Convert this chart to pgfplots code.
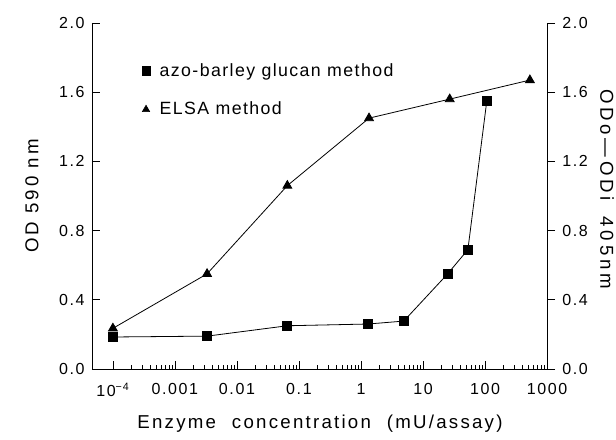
\documentclass[border=0pt]{standalone}
\usepackage{fontspec}
\setmainfont{Liberation Sans}[LetterSpace=10]
\usepackage{pgfplots}
\pgfplotsset{compat=1.18}
\begin{document}
\begin{tikzpicture}
\useasboundingbox (-69pt,-52.5pt) rectangle (393pt,276.75pt);
\begin{axis}[
  at={(0,0)}, anchor=south west,
  scale only axis, width=341.25pt, height=259.5pt,
  xmode=log, xmin=4.6e-5, xmax=1000,
  ymin=0, ymax=2, clip=false,
  axis line style={draw=none},
  xtick pos=left, ytick pos=left,
  tick align=inside,
  ytick={0,0.4,0.8,1.2,1.6,2.0},
  yticklabel style={/pgf/number format/fixed, /pgf/number format/fixed zerofill, /pgf/number format/precision=1, /pgf/number format/assume math mode=true, xshift=-2pt},
  major tick length=6pt, minor tick length=3pt,
  every tick/.style={black, line width=0.6pt},
  tick label style={font=\fontsize{12}{14}\selectfont},
  xtick={1e-4,1e-3,1e-2,1e-1,1,10,100,1000},
  xticklabels={10\textsuperscript{−4},0.001,0.01,0.1,1,10,100,1000},
  minor xtick={2e-4,3e-4,4e-4,5e-4,6e-4,7e-4,8e-4,9e-4,
               2e-3,3e-3,4e-3,5e-3,6e-3,7e-3,8e-3,9e-3,
               2e-2,3e-2,4e-2,5e-2,6e-2,7e-2,8e-2,9e-2,
               0.2,0.3,0.4,0.5,0.6,0.7,0.8,0.9,
               2,3,4,5,6,7,8,9,
               20,30,40,50,60,70,80,90,
               200,300,400,500,600,700,800,900},
  xticklabel style={yshift=-7pt},
  xlabel={Enzyme\hspace{12pt}concentration\hspace{12pt}(mU/assay)},
  ylabel={OD\hspace{6pt}590\hspace{6pt}nm},
  every axis x label/.style={at={(axis description cs:0.501,-0.158)}, anchor=center, font=\fontsize{14}{16}\addfontfeatures{LetterSpace=12}\selectfont},
  every axis y label/.style={at={(axis description cs:-0.132,0.5)}, rotate=90, anchor=center, font=\fontsize{14}{16}\addfontfeatures{LetterSpace=17}\selectfont},
  legend style={draw=none, fill=none, at={(axis description cs:0.1,0.9)}, anchor=north west,
    row sep=14pt, font=\fontsize{13.3}{15}\addfontfeatures{LetterSpace=8}\selectfont},
  legend cell align=left,
]
\draw[line width=0.6pt] (rel axis cs:0,1) -- (rel axis cs:0,0) -- (rel axis cs:1,0) -- (rel axis cs:1,1);
\addlegendimage{only marks, mark=square*, mark size=3.2pt, black}
\addlegendentry{\hspace{5pt}azo-barley glucan method}
\addlegendimage{only marks, mark=triangle*, mark size=3.2pt, black}
\addlegendentry{\hspace{5pt}ELSA method}
\addplot[black, line width=0.6pt, mark=square*, mark size=3.4pt, forget plot] coordinates {
  (1e-4,0.185) (0.0033,0.19) (0.065,0.25) (1.3,0.26) (4.9,0.277) (25,0.55) (53,0.69) (107,1.55)};
\addplot[black, line width=0.6pt, mark=triangle*, mark size=3.8pt, forget plot] coordinates {
  (1e-4,0.235) (0.0033,0.55) (0.065,1.06) (1.35,1.45) (27,1.56) (530,1.67)};
\end{axis}
\begin{axis}[
  at={(0,0)}, anchor=south west,
  scale only axis, width=341.25pt, height=259.5pt,
  xmode=log, xmin=4.6e-5, xmax=1000,
  ymin=0, ymax=2,
  axis line style={draw=none},
  ytick pos=right,
  tick align=outside,
  xtick=\empty,
  ytick={0,0.4,0.8,1.2,1.6,2.0},
  yticklabel style={/pgf/number format/fixed, /pgf/number format/fixed zerofill, /pgf/number format/precision=1, /pgf/number format/assume math mode=true, xshift=2pt},
  major tick length=6pt,
  every tick/.style={black, line width=0.6pt},
  tick label style={font=\fontsize{12}{14}\selectfont},
  ylabel={ODo—ODi\hspace{12pt}405nm},
  every axis y label/.style={at={(axis description cs:1.132,0.52)}, rotate=-90, anchor=center, font=\fontsize{14}{16}\addfontfeatures{LetterSpace=20}\selectfont},
]
\addplot[draw=none] coordinates {(1,1)};
\end{axis}
\end{tikzpicture}
\end{document}
